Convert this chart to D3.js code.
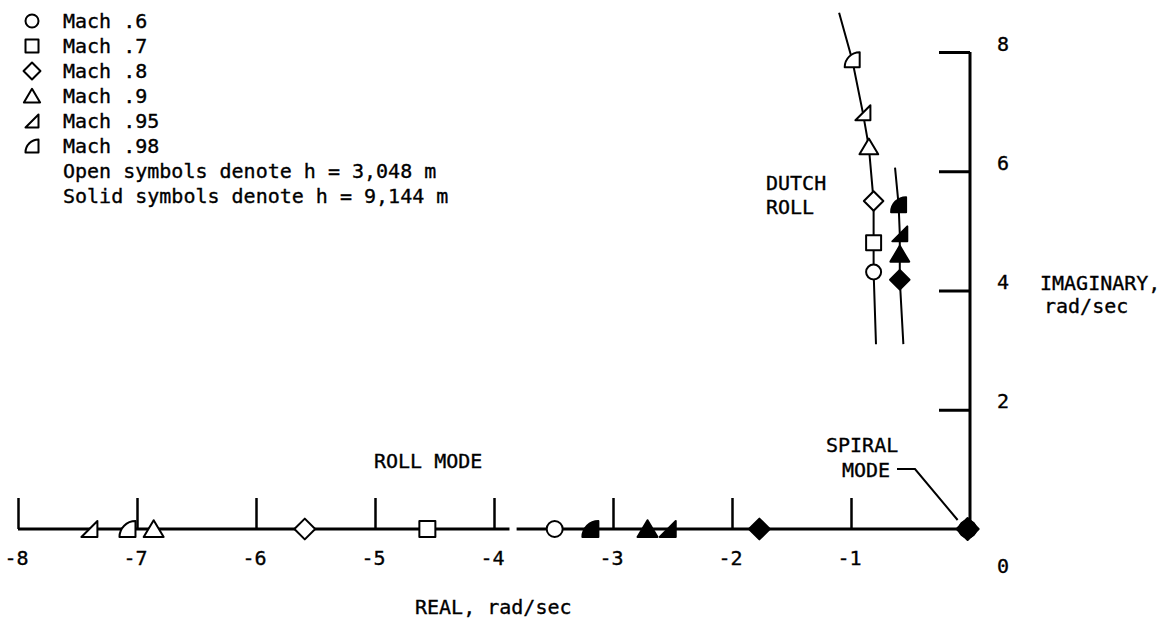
<!DOCTYPE html>
<html>
<head>
<meta charset="utf-8">
<script src="https://cdnjs.cloudflare.com/ajax/libs/d3/7.8.5/d3.min.js"></script>
<style>
    body { margin: 0; background: #fff; }
    text { font-family: "DejaVu Sans Mono", monospace; font-size: 20px; fill: #000; stroke: #000; stroke-width: 0.35px; }
</style>
</head>
<body>
<div id="chart"></div>
<script>
// legend
var machLabels = ['Mach .6', 'Mach .7', 'Mach .8', 'Mach .9', 'Mach .95', 'Mach .98'];
var machShapes = ['circle', 'square', 'diamond', 'triangle', 'flag95', 'flag98'];
var noteLabels = ['Open symbols denote h = 3,048 m', 'Solid symbols denote h = 9,144 m'];

// axes
var xTicks = [-8, -7, -6, -5, -4, -3, -2, -1];
var yTicks = [2, 4, 6, 8];

// dutch roll roots, h = 3,048 m (open) - Mach .6 .. .98
var dutchOpenShape = ['circle', 'square', 'diamond', 'triangle', 'flag95', 'flag98'];
var dutchOpenReal = [-0.81, -0.81, -0.81, -0.85, -0.90, -0.99];
var dutchOpenImag = [4.31, 4.80, 5.50, 6.41, 6.98, 7.87];
// dutch roll roots, h = 9,144 m (solid) - Mach .8 .. .98
var dutchSolidShape = ['diamond', 'triangle', 'flag95', 'flag98'];
var dutchSolidReal = [-0.59, -0.59, -0.59, -0.60];
var dutchSolidImag = [4.18, 4.61, 4.95, 5.44];

// locus lines through the dutch roll roots
var openLocusReal = [-0.79, -0.81, -0.81, -0.81, -0.85, -0.90, -0.99, -1.10];
var openLocusImag = [3.10, 4.31, 4.80, 5.50, 6.41, 6.98, 7.87, 8.66];
var solidLocusReal = [-0.56, -0.59, -0.59, -0.59, -0.60, -0.63];
var solidLocusImag = [3.10, 4.18, 4.61, 4.95, 5.44, 6.06];

// roll mode roots (on the real axis)
var rollOpenShape = ['flag95', 'flag98', 'triangle', 'diamond', 'square', 'circle'];
var rollOpenReal = [-7.40, -7.08, -6.86, -5.59, -4.56, -3.49];
var rollSolidShape = ['flag98', 'triangle', 'flag95', 'diamond'];
var rollSolidReal = [-3.19, -2.71, -2.54, -1.77];

// spiral mode roots
var spiralShape = ['circle', 'diamond'];
var spiralReal = [-0.02, -0.02];

// small break in the real axis line
var axisBreak = [-3.87, -3.81];

var width = 1175, height = 628;

var svg = d3.select('#chart').append('svg')
    .attr('width', width)
    .attr('height', height);

svg.append('rect').attr('width', width).attr('height', height).attr('fill', '#fff');

var x = d3.scaleLinear().domain([-8, 0]).range([18, 970]);
var y = d3.scaleLinear().domain([0, 8]).range([529, 52]);

// symbol outlines, s = half size
function symbolPath(shape, s) {
    switch (shape) {
        case 'circle':
            return 'M' + (-s) + ',0A' + s + ',' + s + ' 0 1,1 ' + s + ',0A' + s + ',' + s + ' 0 1,1 ' + (-s) + ',0Z';
        case 'square':
            return 'M' + (-s) + ',' + (-s) + 'H' + s + 'V' + s + 'H' + (-s) + 'Z';
        case 'diamond':
            var d = s * 1.3;
            return 'M0,' + (-d) + 'L' + d + ',0L0,' + d + 'L' + (-d) + ',0Z';
        case 'triangle':
            var w = s * 1.25;
            return 'M0,' + (-s * 1.1) + 'L' + w + ',' + s + 'L' + (-w) + ',' + s + 'Z';
        case 'flag95':
            return 'M' + s + ',' + (-s) + 'V' + s + 'H' + (-s) + 'Z';
        case 'flag98':
            return 'M' + s + ',' + s + 'H' + (-s) + 'A' + (2 * s) + ',' + (2 * s) + ' 0 0,1 ' + s + ',' + (-s) + 'Z';
    }
}

function drawSymbols(g, shapes, reals, imags, s, filled) {
    g.selectAll(null)
        .data(shapes)
        .enter().append('path')
        .attr('d', function (d) { return symbolPath(d, s); })
        .attr('transform', function (d, i) {
            return 'translate(' + x(reals[i]) + ',' + y(imags ? imags[i] : 0) + ')';
        })
        .attr('fill', filled ? '#000' : '#fff')
        .attr('stroke', '#000')
        .attr('stroke-width', 2)
        .attr('stroke-linejoin', 'round');
}

// real axis (with its little break)
var baseline = svg.append('g');
[[-8, axisBreak[0]], [axisBreak[1], 0]].forEach(function (seg) {
    baseline.append('line')
        .attr('x1', x(seg[0])).attr('x2', x(seg[1]))
        .attr('y1', y(0)).attr('y2', y(0))
        .attr('stroke', '#000').attr('stroke-width', 3);
});

var xAxis = d3.axisBottom(x)
    .tickValues(xTicks)
    .tickSizeInner(-31)
    .tickSizeOuter(0)
    .tickPadding(22)
    .tickFormat(function (d) { return String(d); });

var gx = svg.append('g')
    .attr('transform', 'translate(0,' + y(0) + ')')
    .call(xAxis);
gx.select('.domain').remove();
gx.selectAll('.tick line').attr('stroke', '#000').attr('stroke-width', 2.5);
gx.selectAll('.tick text')
    .attr('x', -2)
    .style('font-family', '"DejaVu Sans Mono", monospace')
    .style('font-size', '20px');

// imaginary axis on the right
var yAxis = d3.axisRight(y)
    .tickValues(yTicks)
    .tickSizeInner(-31)
    .tickSizeOuter(0)
    .tickPadding(27);

var gy = svg.append('g')
    .attr('transform', 'translate(' + x(0) + ',0)')
    .call(yAxis);
gy.select('.domain')
    .attr('d', 'M0,' + y(0) + 'V' + y(8))
    .attr('stroke', '#000').attr('stroke-width', 3);
gy.selectAll('.tick line').attr('stroke', '#000').attr('stroke-width', 3);
gy.selectAll('.tick text')
    .attr('dy', '-0.1em')
    .style('font-family', '"DejaVu Sans Mono", monospace')
    .style('font-size', '20px');

// origin label
svg.append('text').attr('x', x(0) + 27).attr('y', y(0) + 44).text('0');

// axis titles
svg.append('text').attr('x', 415).attr('y', 614).text('REAL, rad/sec');
svg.append('text').attr('x', 1040).attr('y', 290).text('IMAGINARY,');
svg.append('text').attr('x', 1044).attr('y', 313).text('rad/sec');

// locus lines
var locus = d3.line()
    .x(function (d) { return x(d[0]); })
    .y(function (d) { return y(d[1]); });

svg.append('path')
    .attr('d', locus(d3.zip(openLocusReal, openLocusImag)))
    .attr('fill', 'none').attr('stroke', '#000').attr('stroke-width', 2);
svg.append('path')
    .attr('d', locus(d3.zip(solidLocusReal, solidLocusImag)))
    .attr('fill', 'none').attr('stroke', '#000').attr('stroke-width', 2);

// symbols
var marks = svg.append('g');
drawSymbols(marks, dutchOpenShape, dutchOpenReal, dutchOpenImag, 7.5, false);
drawSymbols(marks, dutchSolidShape, dutchSolidReal, dutchSolidImag, 7.5, true);
drawSymbols(marks, rollOpenShape, rollOpenReal, null, 8, false);
drawSymbols(marks, rollSolidShape, rollSolidReal, null, 8, true);
drawSymbols(marks, spiralShape, spiralReal, null, 8.5, true);

// annotations
svg.append('text').attr('x', 766).attr('y', 190).text('DUTCH');
svg.append('text').attr('x', 766).attr('y', 214).text('ROLL');
svg.append('text').attr('x', 374).attr('y', 468).text('ROLL MODE');
svg.append('text').attr('x', 826).attr('y', 452).text('SPIRAL');
svg.append('text').attr('x', 842).attr('y', 477).text('MODE');

svg.append('path')
    .attr('d', 'M897,469H915L' + (x(spiralReal[0]) - 10) + ',' + (y(0) - 9))
    .attr('fill', 'none').attr('stroke', '#000').attr('stroke-width', 2);

// legend
var legend = svg.append('g');
machLabels.forEach(function (label, i) {
    var cy = 21 + 25 * i;
    legend.append('path')
        .attr('d', symbolPath(machShapes[i], 6.5))
        .attr('transform', 'translate(32,' + cy + ')')
        .attr('fill', '#fff').attr('stroke', '#000').attr('stroke-width', 2)
        .attr('stroke-linejoin', 'round');
    legend.append('text').attr('x', 63).attr('y', cy + 7).text(label);
});
noteLabels.forEach(function (label, i) {
    legend.append('text').attr('x', 63).attr('y', 178 + 25 * i).text(label);
});
</script>
</body>
</html>
